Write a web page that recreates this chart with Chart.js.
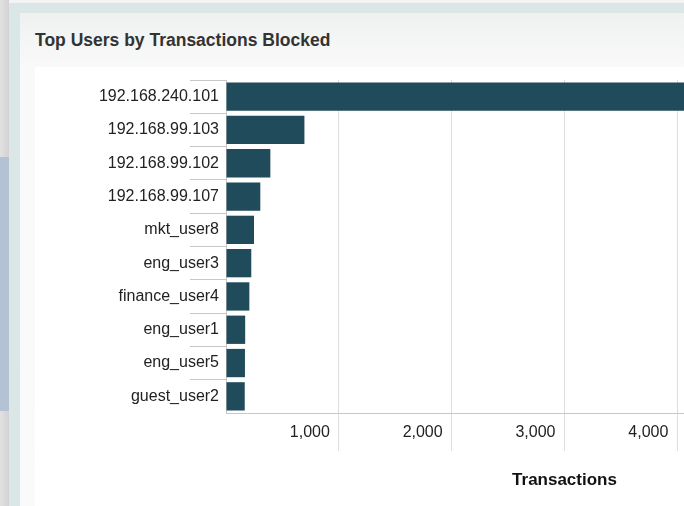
<!DOCTYPE html>
<html>
<head>
<meta charset="utf-8">
<script src="https://cdn.jsdelivr.net/npm/chart.js@4/dist/chart.umd.min.js"></script>
<style>
  html, body { margin:0; padding:0; width:684px; height:506px; overflow:hidden; background:#f4f4f4; }
  .abs { position:absolute; }
  #leftGray { left:0; top:0; width:9px; height:506px; background:linear-gradient(to right,#e2e2e2,#d2d2d2); }
  #leftBlue { left:0; top:157px; width:9px; height:254px; background:#b4c3d3; }
  #teal { left:9px; top:3px; width:675px; height:503px; background:#dbe6e6; }
  #panel { left:20px; top:13px; width:664px; height:493px; background:linear-gradient(to bottom,#eff1f1 0px,#f9f9f9 54px,#fafafa 100%); }
  #title { left:35px; top:29px; font:bold 17.5px "Liberation Sans", Arial, sans-serif; color:#333; white-space:nowrap; line-height:22px; }
  #inner { left:35px; top:67px; width:649px; height:439px; background:#ffffff; }
  #chartWrap { left:0; top:0; width:920px; height:506px; }
</style>
</head>
<body>
<div id="leftGray" class="abs"></div>
<div id="leftBlue" class="abs"></div>
<div id="teal" class="abs"></div>
<div id="panel" class="abs"></div>
<div id="title" class="abs">Top Users by Transactions Blocked</div>
<div id="inner" class="abs"></div>
<div id="chartWrap" class="abs"><canvas id="c" width="920" height="506"></canvas></div>
<script>
const categories = ["192.168.240.101","192.168.99.103","192.168.99.102","192.168.99.107","mkt_user8","eng_user3","finance_user4","eng_user1","eng_user5","guest_user2"];
const transactions = [4850, 695, 393, 304, 248, 224, 207, 170, 168, 166];
const xTickValues = [1000, 2000, 3000, 4000, 5000, 6000];
const xAxisTitle = "Transactions";

const ctx = document.getElementById('c').getContext('2d');
new Chart(ctx, {
  type: 'bar',
  data: {
    labels: categories,
    datasets: [{
      data: transactions,
      backgroundColor: '#1f4b5a',
      borderWidth: 0,
      barPercentage: 0.85,
      categoryPercentage: 1.0
    }]
  },
  options: {
    indexAxis: 'y',
    responsive: false,
    animation: false,
    devicePixelRatio: 1,
    layout: { padding: { left: 0, top: 80, right: 17, bottom: 0 } },
    plugins: { legend: { display: false }, tooltip: { enabled: false } },
    scales: {
      x: {
        type: 'linear',
        min: 0, max: 6000,
        afterBuildTicks: (s) => { s.ticks = [0].concat(xTickValues).map(v => ({ value: v })); },
        afterFit: (s) => { s.height = 93; },
        border: { display: true, color: '#c8c8c8', width: 1 },
        grid: {
          color: (c) => (c.tick && c.tick.value === 0) ? 'rgba(0,0,0,0)' : '#dedede',
          tickLength: 38,
          drawTicks: true
        },
        ticks: {
          align: 'end',
          labelOffset: -9,
          padding: -28,
          color: '#222',
          font: { family: '"Liberation Sans", Arial, sans-serif', size: 16 },
          callback: (v) => v === 0 ? '' : v.toLocaleString('en-US')
        },
        title: {
          display: true,
          text: xAxisTitle,
          color: '#111',
          font: { family: '"Liberation Sans", Arial, sans-serif', size: 17, weight: 'bold' },
          padding: { top: 0, bottom: 15 }
        }
      },
      y: {
        afterFit: (s) => { s.width = 226; },
        border: { display: true, color: '#c8c8c8', width: 1 },
        grid: {
          offset: true,
          drawOnChartArea: false,
          drawTicks: true,
          tickLength: 36,
          color: (c) => c.type === 'tick' ? '#c8c8c8' : 'rgba(0,0,0,0)'
        },
        ticks: {
          padding: -29,
          color: '#222',
          font: { family: '"Liberation Sans", Arial, sans-serif', size: 16 }
        }
      }
    }
  }
});
</script>
</body>
</html>
